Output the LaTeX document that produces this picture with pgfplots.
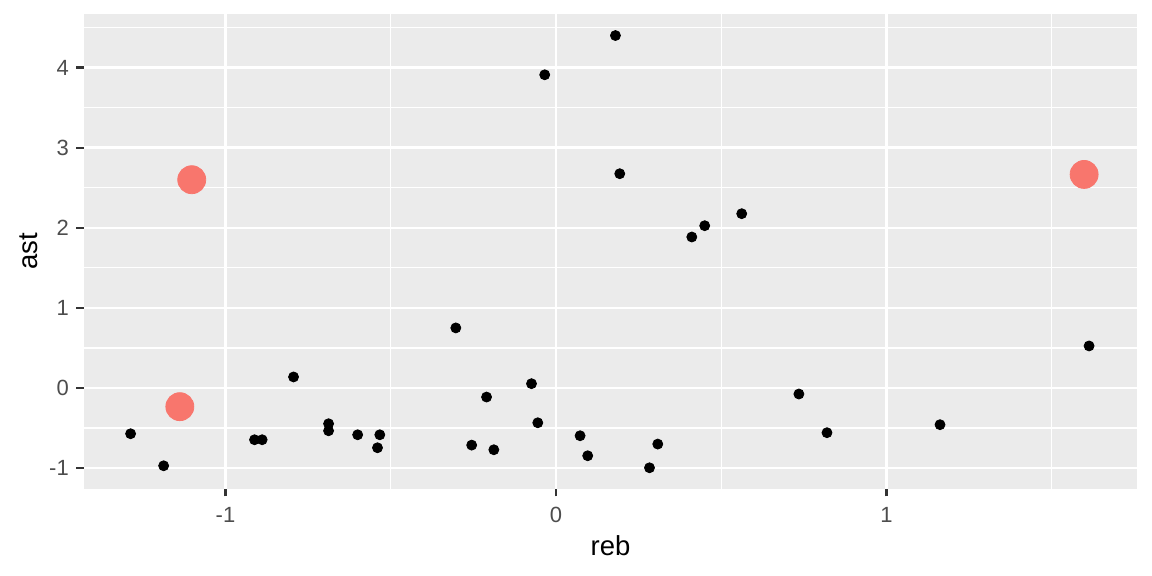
\documentclass[border=0pt]{standalone}
\usepackage{pgfplots}
\pgfplotsset{compat=1.18}
\usepackage{fontspec}
\setmainfont{Liberation Sans}
\definecolor{ggbg}{HTML}{EBEBEB}
\definecolor{ggtick}{HTML}{333333}
\definecolor{ggtext}{HTML}{4D4D4D}
\definecolor{ggred}{HTML}{F8766D}
\begin{document}
\begin{tikzpicture}
\useasboundingbox (0,0) rectangle (576pt,288pt);
\begin{axis}[
  at={(42pt,43.65pt)}, anchor=south west,
  scale only axis, width=526.5pt, height=237.35pt,
  xmin=-1.428, xmax=1.758, ymin=-1.257, ymax=4.669,
  axis background/.style={fill=ggbg},
  axis line style={draw=none},
  xtick={-1,0,1}, ytick={-1,0,1,2,3,4},
  minor xtick={-0.5,0.5,1.5},
  minor ytick={-0.5,0.5,1.5,2.5,3.5,4.5},
  grid=both,
  major grid style={white, line width=1.2pt},
  minor grid style={white, line width=0.6pt},
  tick align=outside, xtick pos=left, ytick pos=left,
  major tick length=3.8pt, minor tick length=0pt,
  tick style={color=ggtick, line width=1.1pt},
  /pgf/number format/assume math mode=true,
  tick label style={font=\fontsize{11}{13}\selectfont, text=ggtext, inner sep=0pt},
  xticklabel style={anchor=north, yshift=-5.4pt},
  yticklabel style={anchor=east, xshift=-3.6pt},
  xlabel={reb}, ylabel={ast},
  label style={font=\fontsize{13.75}{16}\selectfont, text=black, inner sep=0pt},
  xlabel style={at={(axis description cs:0.5,-0.14114)}, anchor=base},
  ylabel style={at={(axis description cs:-0.04435,0.5)}, anchor=base},
  clip=false,
]
% all players
\addplot[only marks, color=black, mark=*, mark size=2.5pt]
coordinates {
(-1.287,-0.571) (-1.187,-0.971) (-0.912,-0.646) (-0.889,-0.646)
(-0.794,0.138) (-0.688,-0.446) (-0.688,-0.534) (-0.600,-0.584)
(-0.533,-0.584) (-0.540,-0.746) (-0.303,0.750) (-0.255,-0.713)
(-0.210,-0.113) (-0.188,-0.771) (-0.074,0.054) (-0.055,-0.434)
(-0.034,3.910) (0.073,-0.596) (0.096,-0.846) (0.180,4.400)
(0.193,2.675) (0.283,-0.996) (0.308,-0.700) (0.411,1.885)
(0.450,2.026) (0.562,2.176) (0.735,-0.075) (0.820,-0.558)
(1.162,-0.458) (1.613,0.525)
};
% highlighted
\addplot[only marks, color=ggred, mark=*, mark size=7pt]
coordinates {(-1.102,2.600) (-1.138,-0.233) (1.598,2.666)};
\end{axis}
\end{tikzpicture}
\end{document}
